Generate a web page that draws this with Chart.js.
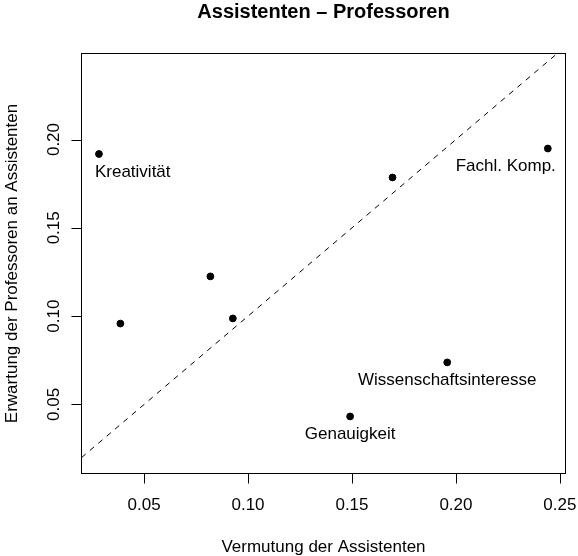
<!DOCTYPE html>
<html>
<head>
<meta charset="utf-8">
<script src="https://cdn.jsdelivr.net/npm/chart.js@4/dist/chart.umd.min.js"></script>
<style>
  html, body { margin: 0; padding: 0; background: #fff; }
  #wrap { width: 578px; height: 556px; }
</style>
</head>
<body>
<div id="wrap"><canvas id="chart" width="578" height="556"></canvas></div>
<script>
// values
const pointX = [0.0283, 0.0386, 0.0819, 0.0927, 0.1695, 0.2442, 0.1958, 0.1491]
const pointY = [0.1918, 0.0958, 0.1225, 0.0987, 0.1785, 0.1949, 0.0738, 0.0432]
const pointLabels = ["Kreativität", "", "", "", "", "Fachl. Komp.", "Wissenschaftsinteresse", "Genauigkeit"]

const xTicks = [0.05, 0.10, 0.15, 0.20, 0.25]
const yTicks = [0.05, 0.10, 0.15, 0.20]
const xRange = [0.0199, 0.2527]
const yRange = [0.0109, 0.2487]

const title  = "Assistenten – Professoren"
const xTitle = "Vermutung der Assistenten"
const yTitle = "Erwartung der Professoren an Assistenten"

// label placement (R text() below the point, two nudged by hand)
const labelStyle = {
  "Kreativität":  { align: "left",  dx: -4 },
  "Fachl. Komp.": { align: "right", dx: 8 },
}
const FONT = '"Liberation Sans", Arial, Helvetica, sans-serif'

const fmt = (v) => v.toFixed(2)

// box, ticks and all texts drawn R-style on top of the chart area
const baseGraphics = {
  id: "baseGraphics",
  afterDraw(chart) {
    const { ctx, chartArea: a, scales: { x, y } } = chart
    ctx.save()
    ctx.strokeStyle = "#000"
    ctx.fillStyle = "#000"
    ctx.lineWidth = 1
    ctx.strokeRect(a.left, a.top, a.right - a.left, a.bottom - a.top)

    // x axis
    ctx.beginPath()
    xTicks.forEach(t => {
      const px = Math.round(x.getPixelForValue(t)) + 0.5
      ctx.moveTo(px, a.bottom); ctx.lineTo(px, a.bottom + 10)
    })
    // y axis
    yTicks.forEach(t => {
      const py = Math.round(y.getPixelForValue(t)) + 0.5
      ctx.moveTo(a.left, py); ctx.lineTo(a.left - 10, py)
    })
    ctx.stroke()

    ctx.font = `17px ${FONT}`
    ctx.textAlign = "center"
    ctx.textBaseline = "alphabetic"
    xTicks.forEach(t => ctx.fillText(fmt(t), x.getPixelForValue(t), 510))
    yTicks.forEach(t => {
      ctx.save()
      ctx.translate(58.5, y.getPixelForValue(t))
      ctx.rotate(-Math.PI / 2)
      ctx.fillText(fmt(t), 0, 0)
      ctx.restore()
    })

    ctx.fillText(xTitle, (a.left + a.right) / 2, 552)
    ctx.save()
    ctx.translate(17, (a.top + a.bottom) / 2)
    ctx.rotate(-Math.PI / 2)
    ctx.fillText(yTitle, 0, 0)
    ctx.restore()

    ctx.font = `bold 20px ${FONT}`
    ctx.fillText(title, (a.left + a.right) / 2, 18)

    // point labels
    ctx.font = `17px ${FONT}`
    ctx.textBaseline = "middle"
    pointLabels.forEach((lab, i) => {
      if (!lab) return
      const st = labelStyle[lab] || { align: "center", dx: 0 }
      ctx.textAlign = st.align
      ctx.fillText(lab, x.getPixelForValue(pointX[i]) + st.dx, y.getPixelForValue(pointY[i]) + 18)
    })
    ctx.restore()
  }
}

new Chart(document.getElementById("chart"), {
  type: "scatter",
  data: {
    datasets: [
      {
        data: pointX.map((v, i) => ({ x: v, y: pointY[i] })),
        backgroundColor: "#000",
        borderColor: "#000",
        pointRadius: 3.4,
        pointHoverRadius: 3.4,
      },
      {
        // abline(0, 1)
        type: "line",
        data: [ { x: xRange[0], y: xRange[0] }, { x: xRange[1], y: xRange[1] } ],
        borderColor: "#000",
        borderWidth: 1,
        borderDash: [ 5.5, 5.5 ],
        pointRadius: 0,
        fill: false,
        tension: 0,
      },
    ],
  },
  options: {
    responsive: false,
    devicePixelRatio: 1,
    animation: false,
    layout: { padding: { left: 81.5, top: 53.5, right: 12.5, bottom: 82.5 } },
    scales: {
      x: { type: "linear", display: false, min: xRange[0], max: xRange[1] },
      y: { type: "linear", display: false, min: yRange[0], max: yRange[1] },
    },
    plugins: {
      legend: { display: false },
      tooltip: { enabled: false },
      title: { display: false },
    },
  },
  plugins: [ baseGraphics ],
})
</script>
</body>
</html>
